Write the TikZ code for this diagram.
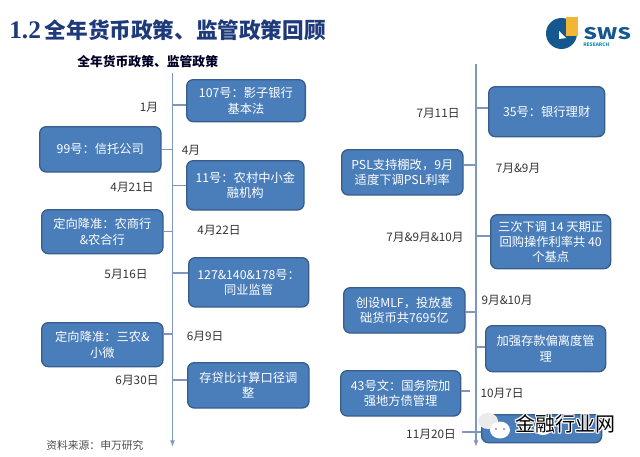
\documentclass[tikz,border=0pt]{standalone}
\usepackage{fontspec}
\setmainfont{Noto Sans CJK SC}
\newfontfamily\numfont{Liberation Serif}
\usepackage{xcolor}
\definecolor{BoxFill}{HTML}{4A7EBB}
\definecolor{BoxLine}{HTML}{385D8A}
\definecolor{AxisLine}{HTML}{7F97BF}
\definecolor{TitleBlue}{HTML}{1F3A7A}
\definecolor{LogoBlue}{HTML}{15588F}
\definecolor{LogoYellow}{HTML}{F2B632}
\usetikzlibrary{arrows.meta,positioning}

\begin{document}
\begin{tikzpicture}[x=.75pt, y=-.75pt, >=Latex,
    every node/.style={align=center, inner sep=0pt},
    polbox/.style={draw=BoxLine, line width=1pt, rounded corners=5pt, fill=BoxFill, text=white, font=\fontsize{9.2}{11.5}\selectfont, anchor=north west},
    datelabel/.style={font=\fontsize{8.8}{10}\selectfont, text=black!80},
    axisline/.style={draw=AxisLine, line width=1pt},
    tick/.style={draw=AxisLine, line width=.8pt}]
  \useasboundingbox (0,0) rectangle (640,457);
  % headings
  \node[font=\fontsize{16.2}{18}\bfseries, text=TitleBlue, anchor=west] (title) at (9,30) {{\fontsize{19}{18}\numfont 1.2}\hspace{3pt}全年货币政策、监管政策回顾};
  \node[font=\fontsize{9.6}{11}\bfseries, text=black!85!blue, anchor=west] (subtitle) at (77,62) {全年货币政策、监管政策};
  \node[font=\fontsize{8.1}{10}\selectfont, text=black!70, anchor=west] (source) at (46,445) {资料来源：申万研究};
  % logo
  \fill[LogoBlue] (561.5,33.5) circle[radius=15.5];
  \fill[white] (559,31) -- (566,38) -- (559,39) -- cycle;
  \fill[LogoYellow] (566,17) rectangle (578,36);
  \node[font=\fontsize{12}{14}\bfseries, text=LogoBlue, anchor=west] (sws) at (583,34) {\scalebox{1.35}[1]{SWS}};
  \node[font=\fontsize{3.6}{4}\bfseries, text=LogoBlue!70!cyan, anchor=west] (research) at (583,45) {RESEARCH};
  % axes
  \coordinate (ltop) at (172.5,73);
  \coordinate (lend) at (172.5,447);
  \coordinate (rtop) at (476,64);
  \coordinate (rend) at (476,447);
  \draw[axisline, -{Latex[length=5pt]}] (ltop) -- (lend);
  \draw[axisline, -{Latex[length=5pt]}] (rtop) -- (rend);
  % left column
  \node[polbox, minimum width=89pt, minimum height=31.5pt] (b107) at (186,79) {107号：影子银行\\基本法};
  \node[polbox, minimum width=91pt, minimum height=34pt] (b99) at (39,126) {99号：信托公司};
  \node[polbox, minimum width=88pt, minimum height=37pt] (b11) at (186,160) {11号：农村中小金\\融机构};
  \node[polbox, minimum width=91pt, minimum height=33pt] (rrra) at (41,209) {定向降准：农商行\\\&农合行};
  \node[polbox, minimum width=90pt, minimum height=37pt] (b127) at (188,257) {127\&140\&178号：\\同业监管};
  \node[polbox, minimum width=91pt, minimum height=33pt] (rrrb) at (41,322) {定向降准：三农\&\\小微};
  \node[polbox, minimum width=91pt, minimum height=34pt] (ldr) at (187,362) {存贷比计算口径调\\整};
  % right column
  \node[polbox, minimum width=87pt, minimum height=37.5pt] (b35) at (488,86) {35号：银行理财};
  \node[polbox, minimum width=91pt, minimum height=34pt] (psl) at (341,149) {PSL支持棚改，9月\\适度下调PSL利率};
  \node[polbox, minimum width=90pt, minimum height=40.5pt] (repo) at (490,214) {三次下调 14 天期正\\回购操作利率共 40\\个基点};
  \node[polbox, minimum width=91pt, minimum height=34pt] (mlf) at (343,287) {创设MLF，投放基\\础货币共7695亿};
  \node[polbox, minimum width=90pt, minimum height=34.5pt] (dep) at (485,325) {加强存款偏离度管\\理};
  \node[polbox, minimum width=90pt, minimum height=34pt] (b43) at (340,370) {43号文：国务院加\\强地方债管理};
  \node[polbox, minimum width=90pt, minimum height=21pt] (last) at (481,414) {};
  % ticks
  \coordinate (t107) at (172.5,105);
  \coordinate (t127) at (172.5,273);
  \coordinate (trrrb) at (172.5,334);
  \coordinate (tldr) at (172.5,380);
  \coordinate (t35) at (476,108);
  \coordinate (tpsl) at (476,165);
  \coordinate (trepo) at (476,236);
  \coordinate (tmlf) at (476,312);
  \coordinate (tdep) at (476,347);
  \coordinate (t43) at (470,391);
  \coordinate (tlast) at (462,432);
  \draw[tick] (b107.west |- t107) -- (t107);
  \draw[tick] (b99.east) -- (b99.east -| ltop);
  \draw[tick] (b11.west) -- (b11.west -| ltop);
  \draw[tick] (rrra.east) -- (rrra.east -| ltop);
  \draw[tick] (b127.west |- t127) -- (t127);
  \draw[tick] (rrrb.east |- trrrb) -- (trrrb);
  \draw[tick] (ldr.west |- tldr) -- (tldr);
  \draw[tick] (b35.west |- t35) -- (t35);
  \draw[tick] (psl.east |- tpsl) -- (tpsl);
  \draw[tick] (repo.west |- trepo) -- (trepo);
  \draw[tick] (mlf.east |- tmlf) -- (tmlf);
  \draw[tick] (dep.west |- tdep) -- (tdep);
  \draw[tick] (b43.east |- t43) -- (t43);
  \draw[tick] (tlast) -- (last.west |- tlast);
  % dates
  \foreach \px/\py/\txt in {149/107/1月, 191/150/4月, 132/187/4月21日, 219/230/4月22日, 126/274/5月16日, 205/336/6月9日, 137/380/6月30日, 438/113/7月11日, 518/168/7月\&9月, 425/237/7月\&9月\&10月, 507/300/9月\&10月, 502/393/10月7日, 431/434/11月20日}
    \node[datelabel] (d\py) at (\px,\py) {\txt};
  % watermark
  \fill[black!8] (488,421) ellipse[x radius=10, y radius=8];
  \fill[white] (500,430) ellipse[x radius=10, y radius=8.5];
  \fill[white] (543,428) ellipse[x radius=9, y radius=7];
  \fill[black!45] (496,429) circle[radius=1.2] (504,429) circle[radius=1.2];
  \foreach \dx/\dy [count=\i] in {-1/0, 1/0, 0/-1, 0/1, -1/-1, 1/1, -1/1, 1/-1}
    \node[font=\fontsize{15}{17}\selectfont, text=white, anchor=west] (halo\i) at (515+\dx,424+\dy) {金融行业网};
  \node[font=\fontsize{15}{17}\selectfont, text=black, anchor=west] (mark) at (515,424) {金融行业网};
\end{tikzpicture}
\end{document}
